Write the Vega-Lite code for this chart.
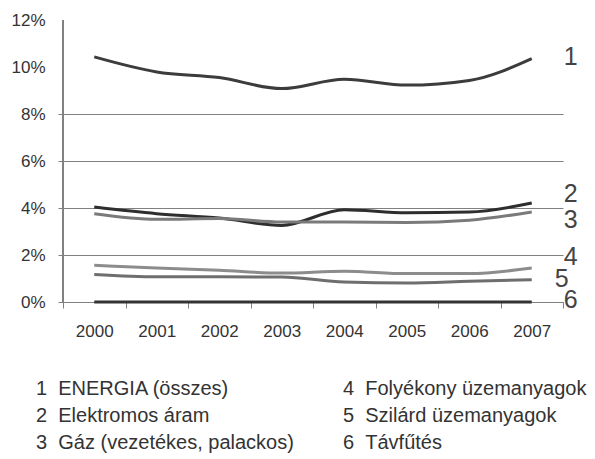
{
  "$schema": "https://vega.github.io/schema/vega-lite/v6.json",
  "width": 500,
  "height": 282,
  "autosize": {"type": "none"},
  "padding": {"left": 63, "top": 20, "right": 32, "bottom": 157},
  "background": "white",
  "config": {"view": {"stroke": null}, "font": "Liberation Sans"},
  "datasets": {
    "series": [
      {"year": "2000", "series": "1\u00a0\u00a0ENERGIA (összes)", "value": 0.1043},
      {"year": "2001", "series": "1\u00a0\u00a0ENERGIA (összes)", "value": 0.0979},
      {"year": "2002", "series": "1\u00a0\u00a0ENERGIA (összes)", "value": 0.0955},
      {"year": "2003", "series": "1\u00a0\u00a0ENERGIA (összes)", "value": 0.0908},
      {"year": "2004", "series": "1\u00a0\u00a0ENERGIA (összes)", "value": 0.0948},
      {"year": "2005", "series": "1\u00a0\u00a0ENERGIA (összes)", "value": 0.0923},
      {"year": "2006", "series": "1\u00a0\u00a0ENERGIA (összes)", "value": 0.0943},
      {"year": "2007", "series": "1\u00a0\u00a0ENERGIA (összes)", "value": 0.1036},
      {"year": "2000", "series": "2\u00a0\u00a0Elektromos áram", "value": 0.0404},
      {"year": "2001", "series": "2\u00a0\u00a0Elektromos áram", "value": 0.0376},
      {"year": "2002", "series": "2\u00a0\u00a0Elektromos áram", "value": 0.0357},
      {"year": "2003", "series": "2\u00a0\u00a0Elektromos áram", "value": 0.0326},
      {"year": "2004", "series": "2\u00a0\u00a0Elektromos áram", "value": 0.0393},
      {"year": "2005", "series": "2\u00a0\u00a0Elektromos áram", "value": 0.0380},
      {"year": "2006", "series": "2\u00a0\u00a0Elektromos áram", "value": 0.0383},
      {"year": "2007", "series": "2\u00a0\u00a0Elektromos áram", "value": 0.0421},
      {"year": "2000", "series": "3\u00a0\u00a0Gáz (vezetékes, palackos)", "value": 0.0376},
      {"year": "2001", "series": "3\u00a0\u00a0Gáz (vezetékes, palackos)", "value": 0.0352},
      {"year": "2002", "series": "3\u00a0\u00a0Gáz (vezetékes, palackos)", "value": 0.0355},
      {"year": "2003", "series": "3\u00a0\u00a0Gáz (vezetékes, palackos)", "value": 0.0340},
      {"year": "2004", "series": "3\u00a0\u00a0Gáz (vezetékes, palackos)", "value": 0.0340},
      {"year": "2005", "series": "3\u00a0\u00a0Gáz (vezetékes, palackos)", "value": 0.0338},
      {"year": "2006", "series": "3\u00a0\u00a0Gáz (vezetékes, palackos)", "value": 0.0348},
      {"year": "2007", "series": "3\u00a0\u00a0Gáz (vezetékes, palackos)", "value": 0.0383},
      {"year": "2000", "series": "4\u00a0\u00a0Folyékony üzemanyagok", "value": 0.0156},
      {"year": "2001", "series": "4\u00a0\u00a0Folyékony üzemanyagok", "value": 0.0145},
      {"year": "2002", "series": "4\u00a0\u00a0Folyékony üzemanyagok", "value": 0.0135},
      {"year": "2003", "series": "4\u00a0\u00a0Folyékony üzemanyagok", "value": 0.0123},
      {"year": "2004", "series": "4\u00a0\u00a0Folyékony üzemanyagok", "value": 0.0131},
      {"year": "2005", "series": "4\u00a0\u00a0Folyékony üzemanyagok", "value": 0.0121},
      {"year": "2006", "series": "4\u00a0\u00a0Folyékony üzemanyagok", "value": 0.0121},
      {"year": "2007", "series": "4\u00a0\u00a0Folyékony üzemanyagok", "value": 0.0145},
      {"year": "2000", "series": "5\u00a0\u00a0Szilárd üzemanyagok", "value": 0.0117},
      {"year": "2001", "series": "5\u00a0\u00a0Szilárd üzemanyagok", "value": 0.0107},
      {"year": "2002", "series": "5\u00a0\u00a0Szilárd üzemanyagok", "value": 0.0107},
      {"year": "2003", "series": "5\u00a0\u00a0Szilárd üzemanyagok", "value": 0.0106},
      {"year": "2004", "series": "5\u00a0\u00a0Szilárd üzemanyagok", "value": 0.0085},
      {"year": "2005", "series": "5\u00a0\u00a0Szilárd üzemanyagok", "value": 0.0081},
      {"year": "2006", "series": "5\u00a0\u00a0Szilárd üzemanyagok", "value": 0.0088},
      {"year": "2007", "series": "5\u00a0\u00a0Szilárd üzemanyagok", "value": 0.0095},
      {"year": "2000", "series": "6\u00a0\u00a0Távfűtés", "value": 0.0},
      {"year": "2001", "series": "6\u00a0\u00a0Távfűtés", "value": 0.0},
      {"year": "2002", "series": "6\u00a0\u00a0Távfűtés", "value": 0.0},
      {"year": "2003", "series": "6\u00a0\u00a0Távfűtés", "value": 0.0},
      {"year": "2004", "series": "6\u00a0\u00a0Távfűtés", "value": 0.0},
      {"year": "2005", "series": "6\u00a0\u00a0Távfűtés", "value": 0.0},
      {"year": "2006", "series": "6\u00a0\u00a0Távfűtés", "value": 0.0},
      {"year": "2007", "series": "6\u00a0\u00a0Távfűtés", "value": 0.0}
    ],
    "labels": [
      {"year": "2007", "num": "1", "value": 0.1041},
      {"year": "2007", "num": "2", "value": 0.046},
      {"year": "2007", "num": "3", "value": 0.0348},
      {"year": "2007", "num": "4", "value": 0.019},
      {"year": "2007", "num": "5", "value": 0.0097},
      {"year": "2007", "num": "6", "value": 0.001}
    ]
  },
  "layer": [
    {
      "data": {"name": "series"},
      "mark": {"type": "line", "strokeWidth": 3, "interpolate": "monotone"},
      "encoding": {
        "x": {
          "field": "year",
          "type": "ordinal",
          "bandPosition": 0.5,
          "scale": {"type": "band", "paddingInner": 0, "paddingOuter": 0},
          "axis": {
            "title": null,
            "labelAngle": 0,
            "tickBand": "extent",
            "ticks": true,
            "tickSize": 6,
            "tickColor": "#808080",
            "domain": true,
            "domainColor": "#808080",
            "labelFontSize": 17,
            "labelColor": "#333333",
            "labelPadding": 15,
            "grid": false
          }
        },
        "y": {
          "field": "value",
          "type": "quantitative",
          "scale": {"domain": [0, 0.12], "nice": false},
          "axis": {
            "title": null,
            "values": [0, 0.02, 0.04, 0.06, 0.08, 0.1, 0.12],
            "format": ".0%",
            "grid": true,
            "gridColor": "#808080",
            "gridOpacity": {"condition": {"test": "datum.value > 0.085", "value": 0}, "value": 1},
            "ticks": true,
            "tickOpacity": {"condition": {"test": "datum.value > 0.085", "value": 0}, "value": 1},
            "tickColor": "#808080",
            "tickSize": 5,
            "domain": true,
            "domainColor": "#808080",
            "domainWidth": 1,
            "labelFontSize": 17,
            "labelColor": "#333333",
            "labelPadding": 13
          }
        },
        "color": {
          "field": "series",
          "type": "nominal",
          "scale": {
            "domain": [
              "1\u00a0\u00a0ENERGIA (összes)",
              "2\u00a0\u00a0Elektromos áram",
              "3\u00a0\u00a0Gáz (vezetékes, palackos)",
              "4\u00a0\u00a0Folyékony üzemanyagok",
              "5\u00a0\u00a0Szilárd üzemanyagok",
              "6\u00a0\u00a0Távfűtés"
            ],
            "range": ["#3c3c3c", "#2e2e2e", "#7a7a7a", "#8c8c8c", "#6e6e6e", "#333333"]
          },
          "legend": {
            "title": null,
            "orient": "none",
            "legendX": -47,
            "legendY": 359,
            "columns": 2,
            "columnPadding": 29,
            "rowPadding": 7,
            "padding": 0,
            "symbolType": "circle",
            "symbolSize": 0,
            "symbolOpacity": 0,
            "symbolStrokeWidth": 0,
            "labelOffset": 0,
            "labelFontSize": 20,
            "labelColor": "#333333",
            "labelLimit": 400
          }
        }
      }
    },
    {
      "data": {"name": "labels"},
      "mark": {"type": "rule", "color": "#808080", "strokeWidth": 1},
      "encoding": {
        "x": {"datum": "2000", "type": "ordinal", "bandPosition": 0},
        "y": {"datum": 0, "type": "quantitative"},
        "y2": {"datum": 0.12}
      }
    },
    {
      "data": {"name": "labels"},
      "transform": [{"filter": "datum.num != '5'"}],
      "mark": {"type": "text", "fontSize": 25, "color": "#444444", "dx": 39, "baseline": "middle", "align": "center"},
      "encoding": {
        "x": {"field": "year", "type": "ordinal", "bandPosition": 0.5},
        "y": {"field": "value", "type": "quantitative"},
        "text": {"field": "num"}
      }
    },
    {
      "data": {"name": "labels"},
      "transform": [{"filter": "datum.num == '5'"}],
      "mark": {"type": "text", "fontSize": 25, "color": "#444444", "dx": 30, "baseline": "middle", "align": "center"},
      "encoding": {
        "x": {"field": "year", "type": "ordinal", "bandPosition": 0.5},
        "y": {"field": "value", "type": "quantitative"},
        "text": {"field": "num"}
      }
    }
  ]
}
